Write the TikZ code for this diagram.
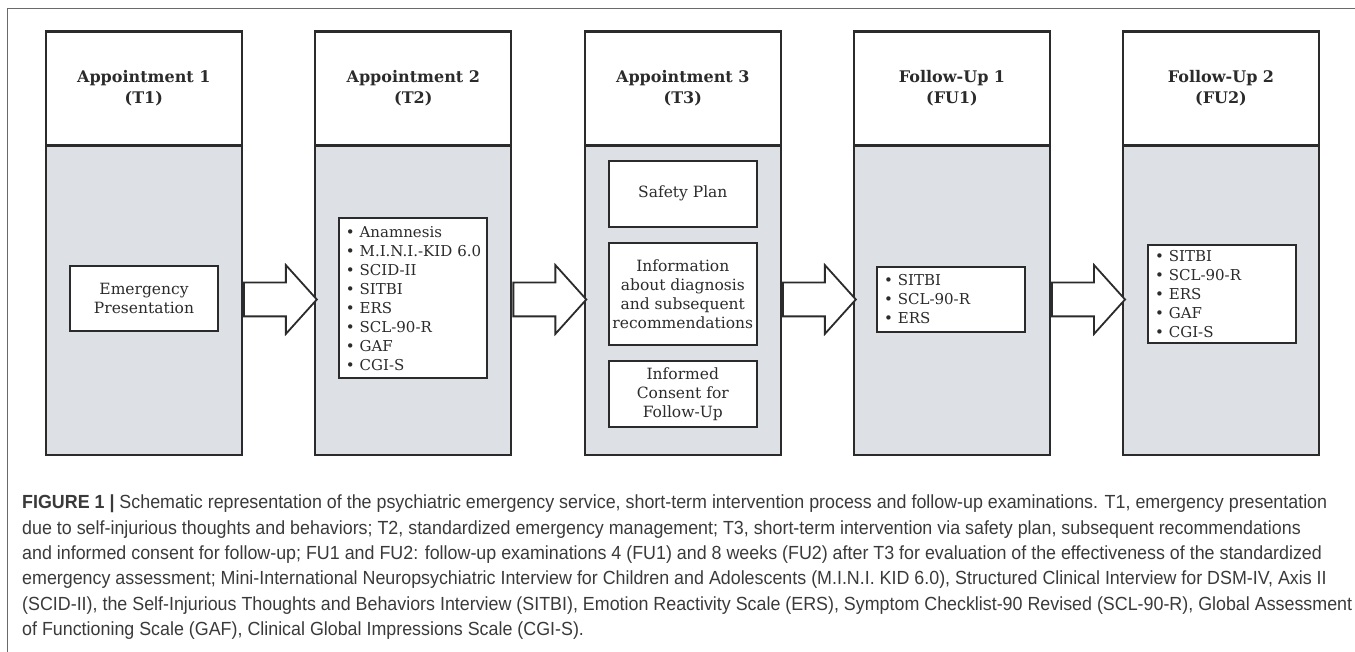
\documentclass[tikz,border=0pt]{standalone}
\usepackage{fontspec}
\setmainfont{DejaVu Serif}
\setsansfont{Liberation Sans}[FakeStretch=0.94]
\usetikzlibrary{shapes.arrows}

\definecolor{panelgray}{HTML}{DDE1E5}
\definecolor{inkgray}{HTML}{2B2B2B}
\definecolor{capgray}{HTML}{3A3A3A}
\definecolor{framegray}{HTML}{6A6A6A}

\begin{document}
\begin{tikzpicture}[x=1pt,y=-1pt,
  colhead/.style={draw=inkgray, line width=2.3pt, fill=white, minimum width=196pt,
    minimum height=114pt, inner sep=0pt, align=center, text=inkgray,
    font=\bfseries\fontsize{16}{21.3}\selectfont},
  colbody/.style={draw=inkgray, line width=2.3pt, fill=panelgray, minimum width=196pt,
    minimum height=311pt, inner sep=0pt},
  item/.style={draw=inkgray, line width=1.8pt, fill=white, minimum width=148pt,
    inner sep=0pt, align=center, text=inkgray, font=\fontsize{15.5}{19}\selectfont},
  list/.style={item, align=left, text width=134pt, font=\fontsize{15}{19}\selectfont},
  flow/.style={single arrow, draw=inkgray, line width=1.8pt, fill=white,
    inner xsep=0pt, inner ysep=16pt, single arrow head extend=17.5pt,
    single arrow tip angle=96, minimum height=73pt, anchor=tail}
]
\useasboundingbox (0,0) rectangle (1355,652);

% frame
\draw[framegray, line width=1.2pt] (7.3,652) -- (7.3,8.3) -- (1355,8.3);

% columns
\foreach \cx/\i/\ttl/\tg in {143.8/1/Appointment 1/T1, 413.3/2/Appointment 2/T2,
    682.8/3/Appointment 3/T3, 952/4/Follow-Up 1/FU1, 1221/5/Follow-Up 2/FU2} {
  \node[colbody] (b\i) at (\cx,299.5) {};
  \node[colhead] (h\i) at (\cx,88.5) {\ttl\\(\tg)};
}

% arrows between columns
\foreach \i/\j in {1/2,2/3,3/4,4/5}
  \node[flow] (a\i) at (b\i.east) {};

% contents
\node[item, minimum height=65pt] (em) at (144,298.4) {Emergency\\Presentation};

\node[list, minimum height=160pt] (l2) at (412.8,298.3)
  {• Anamnesis\\\mbox{• M.I.N.I.-KID 6.0}\\• SCID-II\\• SITBI\\• ERS\\• SCL-90-R\\• GAF\\• CGI-S};

\node[item, minimum height=65.7pt] (sp) at (682.8,193.8) {Safety Plan};
\node[item, minimum height=102.3pt] (inf) at (682.8,293.8)
  {Information\\about diagnosis\\and subsequent\\recommendations};
\node[item, minimum height=65.7pt] (ic) at (682.8,393.8) {Informed\\Consent for\\Follow-Up};

\node[list, minimum height=65.6pt] (l4) at (951,299.5) {• SITBI\\• SCL-90-R\\• ERS};
\node[list, minimum height=97.7pt] (l5) at (1222,293.8)
  {• SITBI\\• SCL-90-R\\• ERS\\• GAF\\• CGI-S};

% caption
\node[anchor=north west, inner sep=0pt, align=left, text=capgray,
  font=\sffamily\fontsize{19}{25.3}\selectfont] (cap) at (22,495)
  {\textbf{FIGURE 1 |} Schematic representation of the psychiatric emergency service, short-term intervention process and follow-up examinations. T1, emergency presentation\\
   due to self-injurious thoughts and behaviors; T2, standardized emergency management; T3, short-term intervention via safety plan, subsequent recommendations\\
   and informed consent for follow-up; FU1 and FU2: follow-up examinations 4 (FU1) and 8 weeks (FU2) after T3 for evaluation of the effectiveness of the standardized\\
   emergency assessment; Mini-International Neuropsychiatric Interview for Children and Adolescents (M.I.N.I. KID 6.0), Structured Clinical Interview for DSM-IV, Axis II\\
   (SCID-II), the Self-Injurious Thoughts and Behaviors Interview (SITBI), Emotion Reactivity Scale (ERS), Symptom Checklist-90 Revised (SCL-90-R), Global Assessment\\
   of Functioning Scale (GAF), Clinical Global Impressions Scale (CGI-S).};

\end{tikzpicture}
\end{document}
